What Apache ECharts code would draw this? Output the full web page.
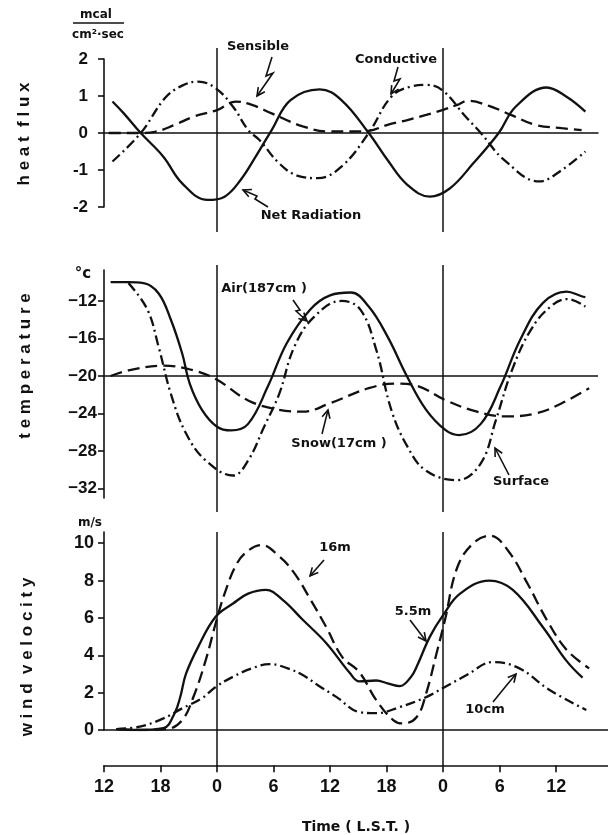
<!DOCTYPE html>
<html>
<head>
<meta charset="utf-8">
<script src="https://cdn.jsdelivr.net/npm/echarts@6/dist/echarts.min.js"></script>
<style>html,body{margin:0;padding:0;background:#fff}#chart{width:608px;height:835px}</style>
</head>
<body>
<div id="chart"></div>
<script>
// time in hours after 12 LST of the first day
var timeTicks = [0, 6, 12, 18, 24, 30, 36, 42, 48];
var timeLabels = ['12', '18', '0', '6', '12', '18', '0', '6', '12'];
var midnights = [12, 36];

var fluxTicks = [-2, -1, 0, 1, 2];
var fluxLabels = ['-2', '-1', '0', '1', '2'];
var tempTicks = [-32, -28, -24, -20, -16, -12];
var tempLabels = ['\u221232', '\u221228', '\u221224', '\u221220', '\u221216', '\u221212'];
var windTicks = [0, 2, 4, 6, 8, 10];
var windLabels = ['0', '2', '4', '6', '8', '10'];

// heat flux (mcal/cm2 sec)
var netRadT = [0.9, 2.1, 3.9, 6.3, 8.3, 11, 12.8, 14.5, 16.1, 17.8, 19.8, 22.9, 25.2, 28.1, 30.1, 32.2, 34.6, 36.7, 39.2, 41.9, 43.7, 47, 49.1, 51.1];
var netRad = [0.85, 0.53, 0, -0.64, -1.36, -1.81, -1.72, -1.27, -0.64, 0.08, 0.89, 1.18, 0.89, 0, -0.73, -1.4, -1.72, -1.5, -0.82, 0, 0.71, 1.23, 0.98, 0.58];
var condT = [0.9, 3.9, 6.5, 8.3, 10, 11.85, 13.7, 15.3, 16.5, 18.6, 20.5, 22.7, 25.2, 28.1, 30.5, 32.5, 34.2, 35.9, 38.4, 40, 42.5, 46.2, 48.6, 51.1];
var cond = [-0.77, 0, 0.95, 1.28, 1.39, 1.21, 0.71, 0.08, -0.19, -0.82, -1.15, -1.22, -0.91, 0, 0.98, 1.25, 1.3, 1.16, 0.44, 0, -0.73, -1.31, -1.0, -0.5];
var sensT = [0.5, 2, 3.9, 5.4, 7.5, 9.5, 12, 14, 15.7, 17.8, 21.1, 24, 26, 28.1, 30.1, 32.2, 34.2, 35.9, 37.5, 38.6, 40.8, 43.2, 45.8, 48.6, 50.7];
var sens = [0, 0, 0, 0.03, 0.22, 0.44, 0.62, 0.85, 0.76, 0.53, 0.18, 0.04, 0.04, 0.06, 0.22, 0.35, 0.49, 0.62, 0.76, 0.87, 0.74, 0.49, 0.22, 0.13, 0.08];

// temperature (deg C)
var airT = [0.7, 2.5, 4.2, 5.8, 7.1, 8.3, 9.1, 10.4, 12, 13.5, 15.3, 17.4, 19.4, 21.9, 24, 26.2, 28.1, 30.1, 32.2, 34.2, 36.3, 37.7, 40, 42.1, 44.2, 46.6, 49.1, 50.7, 51.1];
var air = [-10, -10, -10.1, -11.2, -14, -17.6, -20.8, -23.6, -25.4, -25.8, -25.1, -21.1, -16.5, -12.9, -11.4, -11.1, -12.6, -15.8, -20.1, -23.6, -25.8, -26.3, -25.1, -21.1, -16.1, -12.2, -11, -11.5, -11.6];
var surfT = [2.6, 4.6, 5.8, 7.1, 8.7, 10.8, 13.7, 15.3, 17, 18.6, 20.2, 22.3, 25.2, 27.2, 28.9, 30.5, 32.2, 34.2, 37.5, 40, 41.6, 43.3, 45.3, 47.4, 49.2, 51.1];
var surf = [-10.1, -12.9, -16.9, -21.9, -26.1, -29, -30.6, -29, -25.4, -21.9, -16.9, -13.7, -12, -12.9, -17.2, -23.6, -27.5, -30.1, -31.1, -29.3, -24.7, -19.4, -15.1, -12.6, -11.8, -12.6];
var snowT = [0.7, 2.6, 6.3, 9.5, 12, 15.3, 18.6, 21.1, 24, 28.1, 31, 33.4, 36.3, 39.6, 42.5, 45.8, 48.6, 51.5];
var snow = [-20, -19.4, -18.9, -19.4, -20.4, -22.6, -23.6, -23.8, -22.9, -21.3, -20.8, -21.1, -22.6, -23.8, -24.3, -24, -22.9, -21.3];

// wind velocity (m/s)
var w16T = [1.5, 4, 6.7, 8.3, 9.5, 10.8, 11.85, 12.8, 14.1, 15.3, 16.7, 18.6, 20.2, 21.9, 23.6, 25.3, 27.1, 28.9, 30.7, 31.7, 33.2, 34.2, 35.3, 36.2, 37.5, 39.2, 41, 42.9, 45, 47, 49.1, 51.5];
var w16 = [0.05, 0, 0.05, 0.53, 1.78, 3.74, 5.7, 7.3, 8.9, 9.6, 9.9, 9.3, 8.4, 7.0, 5.5, 3.9, 3.1, 1.6, 0.53, 0.35, 0.7, 1.96, 4.1, 5.9, 8.7, 10, 10.4, 9.6, 7.8, 5.9, 4.3, 3.3];
var w55T = [1.3, 3.4, 6.3, 7.5, 8.1, 8.7, 10, 11.85, 13.7, 15.3, 17.2, 19, 21.1, 23.6, 26.1, 27.1, 28.9, 30.1, 31.4, 32.6, 33.2, 34.6, 36, 37.8, 40.9, 43.4, 46.6, 49.1, 50.8];
var w55 = [0.05, 0, 0.1, 0.9, 1.78, 3.0, 4.45, 6.06, 6.77, 7.3, 7.5, 6.95, 5.9, 4.65, 3.05, 2.6, 2.65, 2.5, 2.35, 2.85, 3.4, 5.0, 6.15, 7.3, 8.0, 7.5, 5.5, 3.7, 2.8];
var w10T = [1.3, 3.8, 6.3, 8.3, 10.4, 11.85, 13.7, 15.7, 17.6, 19.5, 21.1, 22.7, 24.7, 27.1, 28.9, 31.4, 34.2, 36, 38.5, 41.3, 44.1, 47.3, 51.2];
var w10 = [0.05, 0.18, 0.62, 1.16, 1.7, 2.3, 2.85, 3.3, 3.53, 3.3, 2.94, 2.4, 1.76, 0.96, 0.9, 1.23, 1.76, 2.25, 2.94, 3.64, 3.3, 2.14, 1.07];

function pairs(t, v) {
	return t.map(function (x, i) { return [x, v[i]]; });
}

var INK = '#111';
var pxPerHour = 9.42;
var dashLine = [12, 6];
var dashDot = [10, 4, 2, 4];

var chart = echarts.init(document.getElementById('chart'));

function timeAxis(gridIndex, right, extra) {
	var ax = {
		type: 'value', gridIndex: gridIndex, min: 0, max: (608 - 104 - right) / pxPerHour,
		axisLine: { show: false }, axisTick: { show: false }, axisLabel: { show: false }, splitLine: { show: false }
	};
	return Object.assign(ax, extra || {});
}

function valueAxis(gridIndex, min, max, ticks, labels, margin, size) {
	return {
		type: 'value', gridIndex: gridIndex, min: min, max: max,
		axisLine: { show: true, lineStyle: { color: INK, width: 1.6 } },
		axisTick: { show: true, customValues: ticks, length: 6, lineStyle: { color: INK, width: 1.6 } },
		axisLabel: {
			customValues: ticks, margin: margin, color: INK, fontSize: size, fontWeight: 'bold',
			fontFamily: 'Liberation Sans',
			formatter: function (v) { return labels[ticks.indexOf(v)]; }
		},
		splitLine: { show: false }
	};
}

function hiddenAxis(gridIndex) {
	return { type: 'value', gridIndex: gridIndex, min: 0, max: 1, show: false, splitLine: { show: false } };
}

function curve(name, xi, data, type) {
	return {
		name: name, type: 'line', xAxisIndex: xi, yAxisIndex: xi, data: data,
		smooth: 0.4, symbol: 'none', silent: true,
		lineStyle: { color: INK, width: 2.3, type: type }
	};
}

function midnightLines(xi) {
	return {
		type: 'line', xAxisIndex: xi, yAxisIndex: xi, data: [], silent: true,
		markLine: {
			symbol: 'none', silent: true, label: { show: false },
			lineStyle: { color: INK, width: 1.5, type: 'solid' },
			data: midnights.map(function (t) { return { xAxis: t }; })
		}
	};
}

function arrow(pts) {
	var n = pts.length, a = pts[n - 2], b = pts[n - 1];
	var ang = Math.atan2(b[1] - a[1], b[0] - a[0]);
	var L = 8, W = 4;
	var c = Math.cos(ang), s = Math.sin(ang);
	var head = [
		[b[0] - L * c + W * s, b[1] - L * s - W * c],
		b,
		[b[0] - L * c - W * s, b[1] - L * s + W * c]
	];
	return [
		{ type: 'polyline', shape: { points: pts }, style: { stroke: INK, lineWidth: 1.6, fill: null } },
		{ type: 'polyline', shape: { points: head }, style: { stroke: INK, lineWidth: 1.6, fill: null } }
	];
}

function label(text, x, y, size, rot, family) {
	return {
		type: 'text', x: x, y: y, rotation: rot || 0,
		style: {
			text: text, fill: INK, align: 'center', verticalAlign: 'middle',
			fontSize: size, fontWeight: 'bold', fontFamily: family || 'DejaVu Sans'
		}
	};
}

var tempSeries = curve('Air(187cm)', 1, pairs(airT, air), 'solid');
tempSeries.markLine = {
	symbol: 'none', silent: true, label: { show: false },
	lineStyle: { color: INK, width: 1.5, type: 'solid' },
	data: [{ yAxis: -20 }]
};

var graphics = [
	label('h e a t  f l u x', 24, 134, 17, Math.PI / 2, 'Liberation Sans'),
	label('t e m p e r a t u r e', 25, 366, 17, Math.PI / 2, 'Liberation Sans'),
	label('w i n d  v e l o c i t y', 27, 657, 17, Math.PI / 2, 'Liberation Sans'),
	label('mcal', 96, 15, 12),
	{ type: 'line', shape: { x1: 73, y1: 23, x2: 124, y2: 23 }, style: { stroke: INK, lineWidth: 1.5 } },
	label('cm\u00b2\u00b7sec', 98, 35, 12),
	label('\u00b0c', 83, 274, 15),
	label('m/s', 90, 523, 12),
	label('Sensible', 258, 47, 13),
	label('Conductive', 396, 60, 13),
	label('Net Radiation', 311, 216, 13),
	label('Air(187cm )', 264, 289, 13),
	label('Snow(17cm )', 339, 444, 13),
	label('Surface', 521, 482, 13),
	label('16m', 335, 548, 13),
	label('5.5m', 413, 612, 13),
	label('10cm', 485, 710, 13)
].concat(
	arrow([[272, 57], [266, 76], [273, 73], [257, 96]]),
	arrow([[398, 67], [394, 81], [400, 79], [391, 94]]),
	arrow([[268, 207], [255, 199], [257, 196], [243, 190]]),
	arrow([[293, 300], [300, 310], [296, 311], [307, 321]]),
	arrow([[322, 434], [328, 410]]),
	arrow([[509, 475], [495, 448]]),
	arrow([[324, 560], [310, 576]]),
	arrow([[410, 620], [426, 641]]),
	arrow([[493, 702], [506, 686], [516, 674]])
);

var option = {
	backgroundColor: '#fff',
	animation: false,
	grid: [
		{ left: 104, right: 10, top: 59, height: 148 },
		{ left: 104, right: 10, top: 270, height: 228 },
		{ left: 104, right: 0, top: 532, height: 198 },
		{ left: 104, right: 0, top: 765, height: 1 },
		{ left: 104, right: 10, top: 48, height: 184 },
		{ left: 104, right: 10, top: 265, height: 247 },
		{ left: 104, right: 0, top: 532, height: 234 }
	],
	xAxis: [
		timeAxis(0, 10, { axisLine: { show: true, onZero: true, lineStyle: { color: INK, width: 1.5 } } }),
		timeAxis(1, 10),
		timeAxis(2, 0, { axisLine: { show: true, onZero: true, lineStyle: { color: INK, width: 1.5 } } }),
		timeAxis(3, 0, {
			axisLine: { show: true, onZero: false, lineStyle: { color: INK, width: 1.6 } },
			axisTick: { show: true, customValues: timeTicks, length: 7, lineStyle: { color: INK, width: 1.6 } },
			axisLabel: {
				show: true, customValues: timeTicks, margin: 13, color: INK, fontSize: 18, fontWeight: 'bold',
				fontFamily: 'Liberation Sans',
				formatter: function (v) { return timeLabels[timeTicks.indexOf(v)]; }
			},
			name: 'Time ( L.S.T. )', nameLocation: 'middle', nameGap: 55,
			nameTextStyle: { color: INK, fontSize: 14, fontWeight: 'bold', fontFamily: 'DejaVu Sans' }
		}),
		timeAxis(4, 10),
		timeAxis(5, 10),
		timeAxis(6, 0)
	],
	yAxis: [
		valueAxis(0, -2, 2, fluxTicks, fluxLabels, 16, 17),
		valueAxis(1, -33, -8.7, tempTicks, tempLabels, 7, 17),
		valueAxis(2, 0, 10.6, windTicks, windLabels, 10, 18),
		hiddenAxis(3),
		hiddenAxis(4),
		hiddenAxis(5),
		hiddenAxis(6)
	],
	series: [
		curve('Net Radiation', 0, pairs(netRadT, netRad), 'solid'),
		curve('Conductive', 0, pairs(condT, cond), dashDot),
		curve('Sensible', 0, pairs(sensT, sens), dashLine),
		tempSeries,
		curve('Surface', 1, pairs(surfT, surf), dashDot),
		curve('Snow(17cm)', 1, pairs(snowT, snow), dashLine),
		curve('16m', 2, pairs(w16T, w16), dashLine),
		curve('5.5m', 2, pairs(w55T, w55), 'solid'),
		curve('10cm', 2, pairs(w10T, w10), dashDot),
		midnightLines(4),
		midnightLines(5),
		midnightLines(6)
	],
	graphic: graphics
};
chart.setOption(option);
window.addEventListener('resize', function () {
	chart.resize();
});
</script>
</body>
</html>
